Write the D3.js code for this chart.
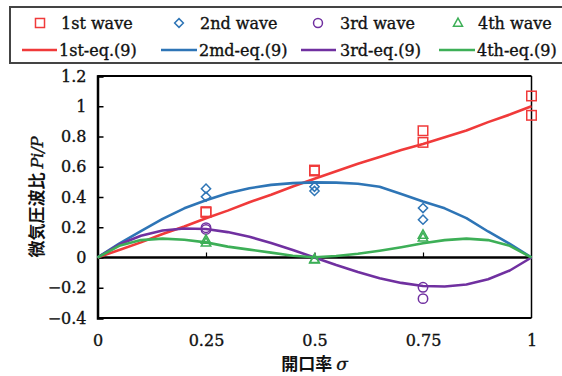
<!DOCTYPE html>
<html><head><meta charset="utf-8">
<script src="https://cdn.jsdelivr.net/npm/d3@7"></script>
<style>
html,body{margin:0;padding:0;background:#fff;}
svg{display:block;}
</style></head>
<body>
<script>
// ---- data ----
const xTicks = [0, 0.25, 0.5, 0.75, 1];
const yTicks = [-0.4, -0.2, 0, 0.2, 0.4, 0.6, 0.8, 1, 1.2];

// measured points [sigma, Pi/P]
const wave1 = [[0.25,0.303],[0.25,0.298],[0.5,0.578],[0.5,0.572],[0.75,0.838],[0.75,0.761],[1,1.068],[1,0.94]];
const wave2 = [[0.25,0.455],[0.25,0.402],[0.5,0.468],[0.5,0.44],[0.75,0.327],[0.75,0.25]];
const wave3 = [[0.25,0.197],[0.25,0.185],[0.75,-0.197],[0.75,-0.272]];
const wave4 = [[0.25,0.116],[0.25,0.098],[0.5,-0.01],[0.5,-0.014],[0.75,0.149],[0.75,0.131]];

// eq.(9) curves
const sigmaGrid = [0,0.05,0.1,0.15,0.2,0.25,0.3,0.35,0.4,0.45,0.5,0.55,0.6,0.65,0.7,0.75,0.8,0.85,0.9,0.95,1];
const eq1 = [0,0.05,0.1,0.155,0.205,0.26,0.31,0.365,0.415,0.47,0.52,0.57,0.62,0.665,0.71,0.75,0.795,0.84,0.895,0.945,1.0];
const eq2 = [0,0.092,0.175,0.255,0.325,0.378,0.425,0.458,0.48,0.492,0.497,0.495,0.488,0.468,0.42,0.37,0.325,0.26,0.172,0.09,0];
const eq3 = [0,0.086,0.144,0.178,0.192,0.188,0.168,0.137,0.096,0.05,0,-0.05,-0.096,-0.137,-0.168,-0.188,-0.192,-0.178,-0.144,-0.086,0];
const eq4 = [0,0.077,0.115,0.125,0.117,0.1,0.072,0.052,0.032,0.012,0.002,0.01,0.025,0.045,0.068,0.094,0.115,0.125,0.115,0.077,0];

const legendWave = ["1st wave","2nd wave","3rd wave","4th wave"];
const legendEq = ["1st-eq.(9)","2md-eq.(9)","3rd-eq.(9)","4th-eq.(9)"];
const colors = ["#f03a3a","#2e75b6","#7030a0","#3daf57"];
const markerTypes = ["square","diamond","circle","triangle"];

// ---- chart ----
const W = 562, H = 376;
const svg = d3.select("body").append("svg").attr("width", W).attr("height", H);
const serif = "'DejaVu Serif', serif";
const cjk = "'Noto Sans CJK JP', sans-serif";
const txtStroke = 0.35;

const x = d3.scaleLinear().domain([0,1]).range([97.5,531.5]);
const y = d3.scaleLinear().domain([-0.4,1.2]).range([318,76]);

// frame top/right/bottom
svg.append("line").attr("x1",x(0)).attr("x2",x(1)).attr("y1",y(1.2)).attr("y2",y(1.2)).attr("stroke","#000").attr("stroke-width",1.8);
svg.append("line").attr("x1",x(1)).attr("x2",x(1)).attr("y1",y(1.2)).attr("y2",y(-0.4)).attr("stroke","#000").attr("stroke-width",1.5);
svg.append("line").attr("x1",x(0)).attr("x2",x(1)).attr("y1",y(-0.4)).attr("y2",y(-0.4)).attr("stroke","#000").attr("stroke-width",2);

// y axis with inward ticks
const yAxis = d3.axisLeft(y).tickValues(yTicks).tickSize(-6).tickPadding(11).tickFormat(d3.format(""));
const gy = svg.append("g").attr("transform",`translate(${x(0)},0)`).call(yAxis);
gy.select(".domain").attr("stroke-width",2.5);
gy.selectAll(".tick line").attr("stroke-width",1.5);
gy.selectAll("text").attr("font-family",serif).attr("font-size",16).attr("fill","#111")
  .attr("stroke","#111").attr("stroke-width",txtStroke);

// x axis on zero line with upward ticks, labels at bottom
const xAxis = d3.axisTop(x).tickValues(xTicks.filter(d=>d>0&&d<1)).tickSize(5).tickFormat("");
const gx = svg.append("g").attr("transform",`translate(0,${y(0)})`).call(xAxis);
gx.select(".domain").remove();
gx.selectAll(".tick line").attr("stroke-width",1.2);
svg.append("line").attr("x1",x(0)).attr("x2",x(1)).attr("y1",y(0)).attr("y2",y(0)).attr("stroke","#000").attr("stroke-width",2.5);

const xLab = d3.axisBottom(x).tickValues(xTicks).tickSize(0).tickPadding(17).tickFormat(d3.format(""));
const gxl = svg.append("g").attr("transform",`translate(0,${y(-0.4)})`).call(xLab);
gxl.select(".domain").remove();
gxl.selectAll("text").attr("font-family",serif).attr("font-size",16).attr("fill","#111")
  .attr("stroke","#111").attr("stroke-width",txtStroke);

// curves
const line = d3.line().x(d=>x(d[0])).y(d=>y(d[1]));
[eq1,eq2,eq3,eq4].forEach((arr,i)=>{
  svg.append("path").datum(sigmaGrid.map((s,j)=>[s,arr[j]]))
    .attr("d",line).attr("fill","none").attr("stroke",colors[i]).attr("stroke-width",2.6)
    .attr("stroke-linejoin","round");
});

// markers
function drawMarker(g, type, cx, cy, color, scale){
  const s = scale||1;
  if(type==="square"){
    const a=9.5*s;
    g.append("rect").attr("x",cx-a/2).attr("y",cy-a/2).attr("width",a).attr("height",a)
     .attr("fill","none").attr("stroke",color).attr("stroke-width",1.5);
  } else if(type==="diamond"){
    const r=4.6*s;
    g.append("path").attr("d",`M${cx},${cy-r}L${cx+r},${cy}L${cx},${cy+r}L${cx-r},${cy}Z`)
     .attr("fill","none").attr("stroke",color).attr("stroke-width",1.5);
  } else if(type==="circle"){
    g.append("circle").attr("cx",cx).attr("cy",cy).attr("r",4.7*s)
     .attr("fill","none").attr("stroke",color).attr("stroke-width",1.5);
  } else {
    const h=8.5*s, w=9.5*s;
    g.append("path").attr("d",`M${cx},${cy-h*0.6}L${cx+w/2},${cy+h*0.4}L${cx-w/2},${cy+h*0.4}Z`)
     .attr("fill","none").attr("stroke",color).attr("stroke-width",1.5);
  }
}
const mg = svg.append("g");
[wave1,wave2,wave3,wave4].forEach((arr,i)=>{
  arr.forEach(d=>drawMarker(mg, markerTypes[i], x(d[0]), y(d[1]), colors[i]));
});

// axis titles
const yt = svg.append("text").attr("transform","translate(43,197) rotate(-90)")
  .attr("text-anchor","middle").attr("fill","#111");
yt.append("tspan").attr("font-family",cjk).attr("font-size",17).attr("font-weight",700).text("微気圧波比 ");
yt.append("tspan").attr("font-family",serif).attr("font-size",16).attr("font-style","italic")
  .attr("stroke","#111").attr("stroke-width",txtStroke).text("Pi/P");

const xt = svg.append("text").attr("x",314.5).attr("y",370).attr("text-anchor","middle").attr("fill","#111");
xt.append("tspan").attr("font-family",cjk).attr("font-size",17).attr("font-weight",700).text("開口率 ");
xt.append("tspan").attr("font-family",serif).attr("font-size",17).attr("font-style","italic")
  .attr("stroke","#111").attr("stroke-width",txtStroke).text("σ");

// legend
svg.append("rect").attr("x",10).attr("y",7).attr("width",560).attr("height",56)
  .attr("fill","#fff").attr("stroke","#444").attr("stroke-width",2);
const markerX = [40,179,318,458];
const waveTextX = [61,200,340,478];
const lineX = [[22,57],[161,197],[301,336],[439,475]];
const eqTextX = [59,199,340,477];
legendWave.forEach((t,i)=>{
  drawMarker(svg, markerTypes[i], markerX[i], 23, colors[i], 0.95);
  svg.append("text").attr("x",waveTextX[i]).attr("y",29).attr("font-family",serif).attr("font-size",16)
    .attr("fill","#111").attr("stroke","#111").attr("stroke-width",txtStroke).text(t);
});
legendEq.forEach((t,i)=>{
  svg.append("line").attr("x1",lineX[i][0]).attr("x2",lineX[i][1]).attr("y1",50).attr("y2",50)
    .attr("stroke",colors[i]).attr("stroke-width",2.6);
  svg.append("text").attr("x",eqTextX[i]).attr("y",56).attr("font-family",serif).attr("font-size",16)
    .attr("fill","#111").attr("stroke","#111").attr("stroke-width",txtStroke).text(t);
});
</script>
</body></html>
